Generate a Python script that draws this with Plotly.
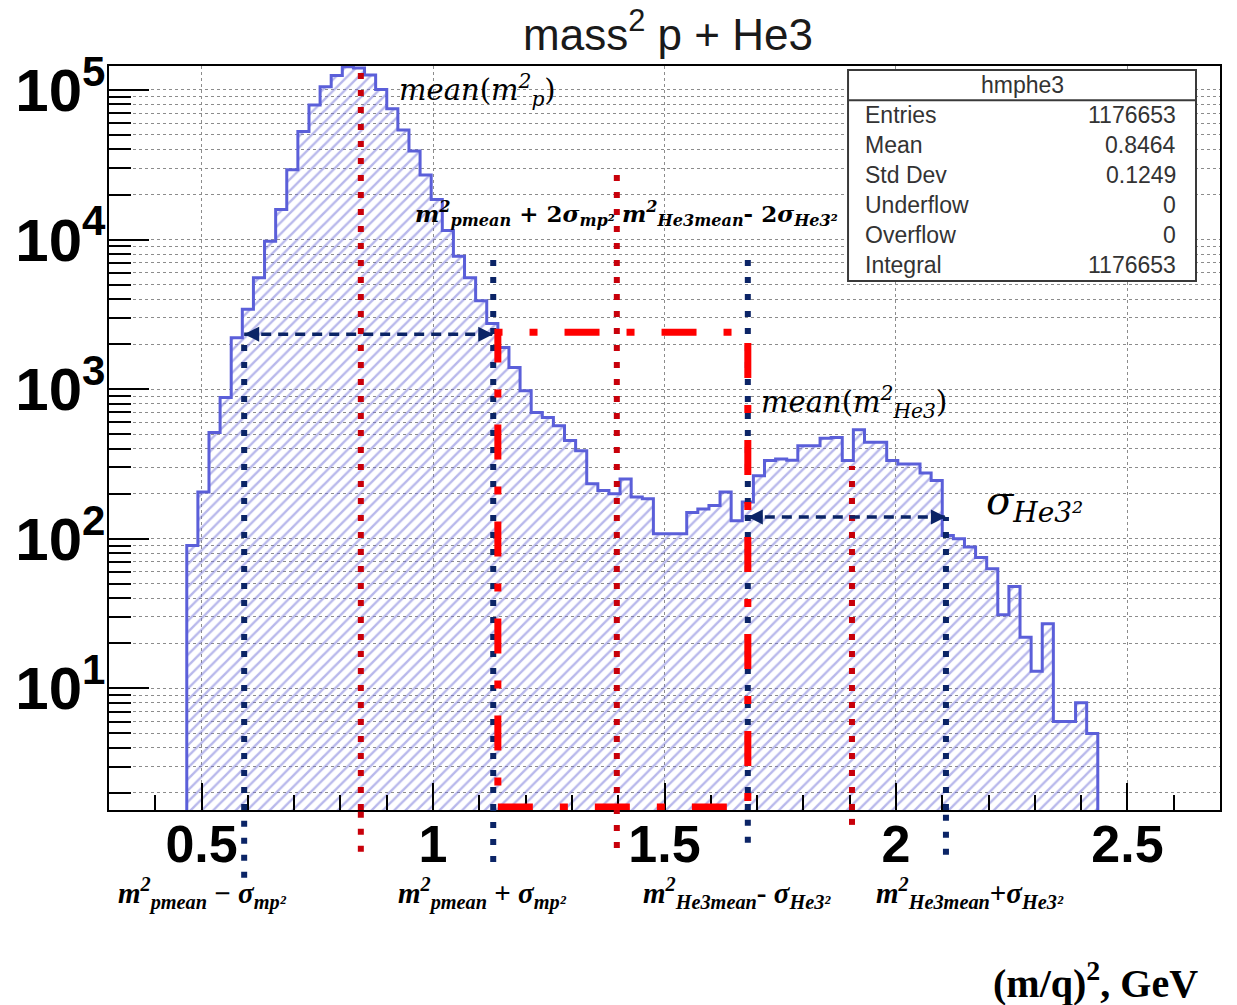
import numpy as np
import plotly.graph_objects as go

# ---------------- data ----------------
# hmphe3: 100 bins on [0.3, 2.7]; filled bins run from 0.468 to 2.436
bin_width = 0.024
first_edge = 0.468
counts = [90, 205, 514, 880, 2210, 3415, 5550, 9750, 15850, 29300,
          52700, 79400, 105000, 125000, 143000, 140000, 126000, 100500, 75000, 54000,
          39000, 27000, 18500, 11500, 7740, 5550, 3900, 2750, 1900, 1394,
          975, 699, 647, 570, 453, 388, 233, 210, 200, 251,
          190, 185, 108, 108, 108, 150, 158, 167, 205, 132,
          176, 264, 333, 341, 335, 419, 419, 470, 476, 333,
          535, 441, 441, 333, 316, 316, 275, 245, 105, 100,
          88, 75, 63, 31, 48, 22, 13, 27, 6, 6,
          8, 5]

stat_names = ["Entries", "Mean", "Std Dev", "Underflow", "Overflow", "Integral"]
stat_values = ["1176653", "0.8464", "0.1249", "0", "0", "1176653"]

# selection guides, (m/q)^2 in GeV^2
p_mean = 0.844
p_minus_sigma = 0.592
p_plus_sigma = 1.130
window_left = 1.140
cut_middle = 1.397
he3_minus_sigma = 1.680
he3_mean = 1.905
he3_plus_sigma = 2.108

# guide heights, counts
p_sigma_level = 2330
he3_sigma_level = 140
window_top = 2400
p_plus_sigma_top = 8580
he3_minus_sigma_top = 8580
cut_middle_top = 31600
he3_mean_top = 307

x_range = [0.3, 2.7]
y_range = [0.187, 5.16]          # log10

# ---------------- styles ----------------
HIST_LINE = "#5b5fd9"
HATCH = "#7272d8"
RED_DOT = "#c8000a"
NAVY = "#0b2466"
RED = "#ff0000"
GRID = "#8c8c8c"

edges = first_edge + bin_width * np.arange(len(counts) + 1)
centers = edges[:-1] + bin_width / 2
y_floor = 1.0
y_bottom = 10 ** y_range[0]
y_top = 10 ** y_range[1]

fig = go.Figure()

# hatched body of the histogram
fig.add_trace(go.Bar(
    x=centers, y=counts, width=bin_width,
    marker=dict(color="rgba(0,0,0,0)", line=dict(width=0),
                pattern=dict(shape="/", fgcolor=HATCH, bgcolor="rgba(0,0,0,0)",
                             size=8, solidity=0.3, fillmode="overlay")),
    hoverinfo="skip",
))

# step outline
step_x = [edges[0]] + list(edges)
step_y = [y_floor] + list(counts) + [y_floor]
fig.add_trace(go.Scatter(
    x=step_x, y=step_y, mode="lines", line=dict(color=HIST_LINE, width=3, shape="hv"),
    hoverinfo="skip",
))

shapes = []


def vline(x, top, color, stub, dash="6px,11px", width=6):
    # part inside the frame, in data units
    shapes.append(dict(type="line", xref="x", yref="y", x0=x, x1=x, y0=y_bottom, y1=top,
                       line=dict(color=color, width=width, dash=dash), layer="above"))
    # short extension below the frame
    shapes.append(dict(type="line", xref="x", yref="paper", x0=x, x1=x, y0=-stub, y1=0,
                       line=dict(color=color, width=width, dash=dash), layer="above"))


vline(p_mean, y_top, RED_DOT, 0.056)
vline(cut_middle, cut_middle_top, RED_DOT, 0.051)
vline(he3_mean, he3_mean_top, RED_DOT, 0.02)
vline(p_minus_sigma, p_sigma_level, NAVY, 0.091)
vline(p_plus_sigma, p_plus_sigma_top, NAVY, 0.07)
vline(he3_minus_sigma, he3_minus_sigma_top, NAVY, 0.044)
vline(he3_plus_sigma, he3_sigma_level, NAVY, 0.06)

# dashed sigma ranges
for xa, xb, lvl in [(p_minus_sigma, p_plus_sigma, p_sigma_level),
                    (he3_minus_sigma, he3_plus_sigma, he3_sigma_level)]:
    shapes.append(dict(type="line", xref="x", yref="y", x0=xa, x1=xb, y0=lvl, y1=lvl,
                       line=dict(color=NAVY, width=3.5, dash="10px,7px"), layer="above"))

# selection window (bottom edge lifted just enough to stay inside the frame)
shapes.append(dict(type="rect", xref="x", yref="y", x0=window_left, x1=he3_minus_sigma,
                   y0=10 ** (y_range[0] + 0.02), y1=window_top,
                   line=dict(color=RED, width=7, dash="35px,27px,8px,27px"), layer="above"))

# statistics box
box_x0, box_x1, box_y0, box_y1 = 0.6652, 0.9784, 0.711, 0.9946
shapes.append(dict(type="rect", xref="paper", yref="paper", x0=box_x0, x1=box_x1,
                   y0=box_y0, y1=box_y1, fillcolor="white",
                   line=dict(color="#3a3a3a", width=2), layer="above"))
shapes.append(dict(type="line", xref="paper", yref="paper", x0=box_x0, x1=box_x1,
                   y0=0.954, y1=0.954, line=dict(color="#3a3a3a", width=2), layer="above"))

annotations = []

# arrow heads on the sigma ranges
for xa, xb, lvl in [(p_minus_sigma, p_plus_sigma, p_sigma_level),
                    (he3_minus_sigma, he3_plus_sigma, he3_sigma_level)]:
    for xh, off in [(xa, 16), (xb, -16)]:
        annotations.append(dict(x=xh, y=np.log10(lvl), xref="x", yref="y", text="",
                                showarrow=True, ax=off, ay=0, arrowhead=2, arrowsize=1,
                                arrowwidth=3, arrowcolor=NAVY))

MATH = "DejaVu Serif"
SERIF = "Liberation Serif"


def label(text, x, y, size, family=MATH, xanchor="left", color="black"):
    annotations.append(dict(text=text, x=x, y=y, xref="paper", yref="paper",
                            xanchor=xanchor, yanchor="middle", showarrow=False,
                            font=dict(family=family, size=size, color=color)))


label("<i>mean</i>(<i>m<sup>2</sup><sub>p</sub></i>)", 0.259, 0.968, 29)
label("<b><i>m<sup>2</sup><sub>pmean</sub></i> + 2<i>σ<sub>mp²</sub></i></b>", 0.2735, 0.8024, 23)
label("<b><i>m<sup>2</sup><sub>He3mean</sub></i>- 2<i>σ<sub>He3²</sub></i></b>", 0.4595, 0.8024, 23)
label("<i>mean</i>(<i>m<sup>2</sup><sub>He3</sub></i>)", 0.5855, 0.548, 29)
label("<i>σ<sub>He3²</sub></i>", 0.7875, 0.4126, 40)

label("<b><i>m<sup>2</sup><sub>pmean</sub></i> − <i>σ<sub>mp²</sub></i></b>", 0.0063, -0.1116, 29, SERIF)
label("<b><i>m<sup>2</sup><sub>pmean</sub></i> + <i>σ<sub>mp²</sub></i></b>", 0.2583, -0.1116, 29, SERIF)
label("<b><i>m<sup>2</sup><sub>He3mean</sub></i>- <i>σ<sub>He3²</sub></i></b>", 0.4788, -0.1116, 29, SERIF)
label("<b><i>m<sup>2</sup><sub>He3mean</sub></i>+<i>σ<sub>He3²</sub></i></b>", 0.6886, -0.1116, 29, SERIF)

label("<b>(m/q)<sup>2</sup>, GeV</b>", 0.982, -0.2285, 40, SERIF, xanchor="right")

# statistics box text
STAT_FONT = "Liberation Sans"
label("hmphe3", 0.822, 0.9745, 23, STAT_FONT, xanchor="center", color="#333333")
for i, (nm, val) in enumerate(zip(stat_names, stat_values)):
    yy = (810 - (115 + 30 * i)) / 744
    label(nm, 0.679, yy, 23, STAT_FONT, xanchor="left", color="#333333")
    label(val, 0.9622, yy, 23, STAT_FONT, xanchor="right", color="#333333")

fig.update_layout(
    width=1237, height=1005,
    margin=dict(l=109, r=17, t=66, b=195),
    plot_bgcolor="white", paper_bgcolor="white",
    showlegend=False, bargap=0,
    title=dict(text="mass<sup>2</sup> p + He3", x=0.54, y=0.966,
               xanchor="center", yanchor="middle",
               font=dict(family="Liberation Sans", size=44, color="#1a1a1a")),
    shapes=shapes, annotations=annotations,
)

fig.update_xaxes(
    range=x_range, showline=True, linecolor="black", linewidth=2, mirror=True,
    tick0=0, dtick=0.5, ticks="inside", ticklen=27, tickwidth=2, tickcolor="black",
    showgrid=True, gridcolor=GRID, griddash="dot", gridwidth=1,
    minor=dict(dtick=0.1, ticks="inside", ticklen=15, tickwidth=2, tickcolor="black",
               showgrid=False),
    tickfont=dict(family="Liberation Sans", size=52, color="black", weight="bold"),
    ticklabelstandoff=-12,
    zeroline=False,
)

fig.update_yaxes(
    type="log", range=y_range, showline=True, linecolor="black", linewidth=2, mirror=True,
    dtick=1, exponentformat="power", labelalias={"10": "10<sup>1</sup>"},
    ticks="inside", ticklen=40, tickwidth=2, tickcolor="black",
    showgrid=True, gridcolor=GRID, griddash="dot", gridwidth=1,
    minor=dict(dtick="D1", ticks="inside", ticklen=22, tickwidth=2, tickcolor="black",
               showgrid=True, gridcolor=GRID, griddash="dot", gridwidth=1),
    tickfont=dict(family="Liberation Sans", size=48, color="black", weight="bold"),
    ticklabelstandoff=-8,
    zeroline=False,
)

fig.write_html("out.html")
